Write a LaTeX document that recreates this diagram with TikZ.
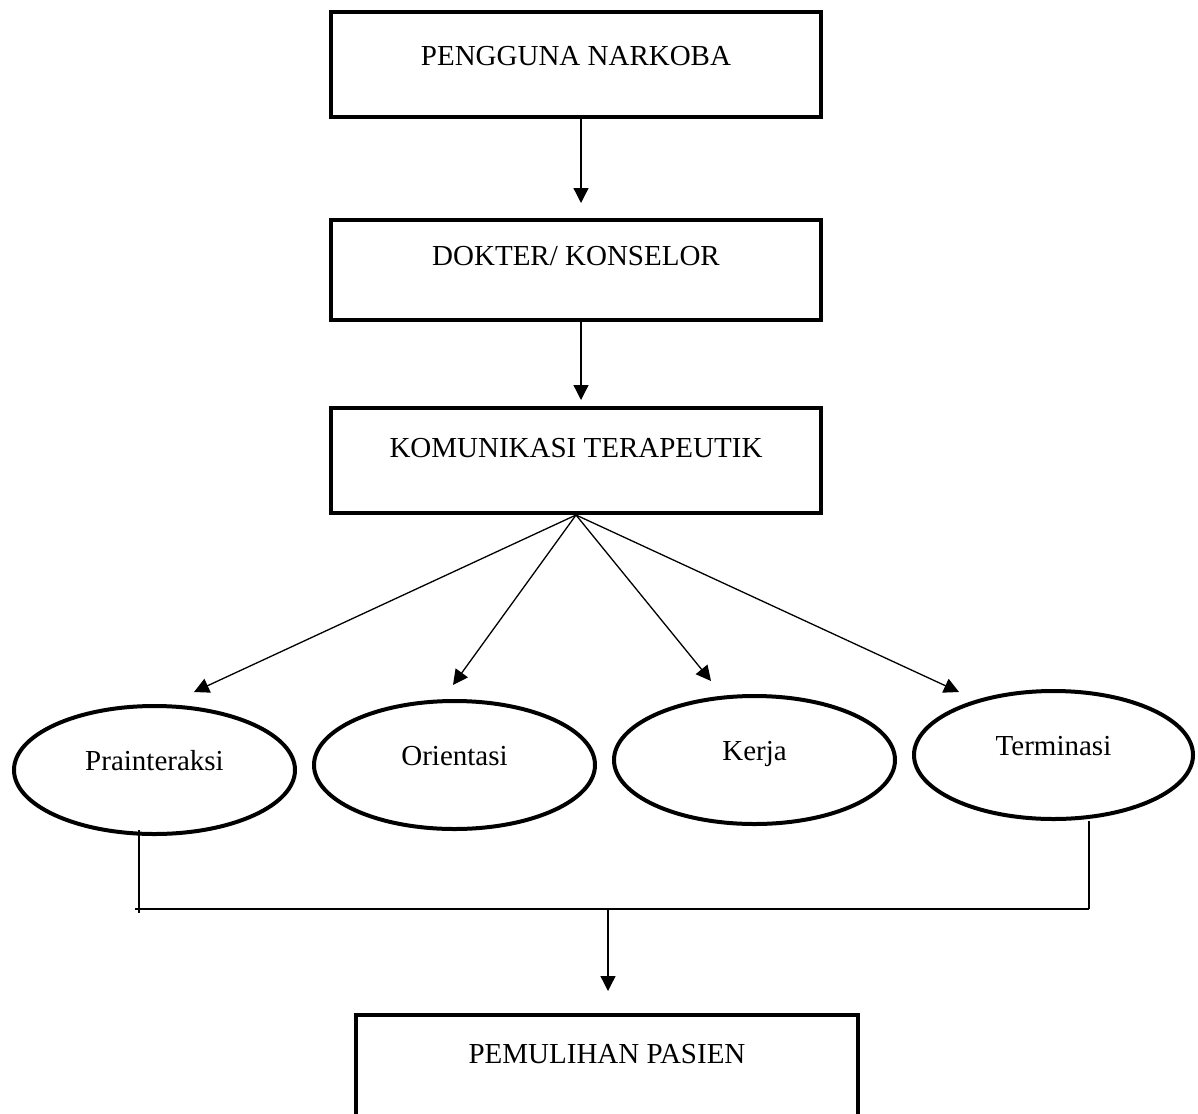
\documentclass[tikz,border=0pt]{standalone}
\usepackage{fontspec}
\setmainfont{Liberation Serif}
\usetikzlibrary{arrows.meta,shapes.geometric,calc}
\begin{document}
\begin{tikzpicture}[x=1pt,y=-1pt,
  boxnode/.style={draw,line width=4pt,rectangle,minimum width=490pt,inner sep=0pt,
    font=\fontsize{29}{34}\selectfont,text height=20pt},
  ovalnode/.style={draw,line width=4pt,ellipse,minimum width=281pt,minimum height=128pt,
    inner sep=0pt,font=\fontsize{29}{34}\selectfont,text height=20pt,text depth=18.8pt},
  conn/.style={line width=1.3pt},
  arr/.style={conn,-{Triangle[length=15pt,width=15pt]}}]
\clip (0,0) rectangle (1198,1113);
\fill[white] (0,0) rectangle (1198,1113);

\node[boxnode,minimum height=105pt,text depth=17.8pt] (b1) at (576,64.5) {PENGGUNA NARKOBA};
\node[boxnode,minimum height=100pt,text depth=28.8pt] (b2) at (576,270) {DOKTER/ KONSELOR};
\node[boxnode,minimum height=105pt,text depth=25.8pt] (b3) at (576,460.5) {KOMUNIKASI TERAPEUTIK};
\node[boxnode,minimum width=502pt,minimum height=105pt,text depth=27.8pt] (b4) at (607,1067.5) {PEMULIHAN PASIEN};

\node[ovalnode] (e1) at (154.5,770) {Prainteraksi};
\node[ovalnode] (e2) at (454.5,765) {Orientasi};
\node[ovalnode] (e3) at (754.5,760) {Kerja};
\node[ovalnode,minimum width=279pt] (e4) at (1053.5,755) {Terminasi};

\draw[arr,shorten >=15pt] ([xshift=5pt]b1.south) -- ([xshift=5pt]b2.north);
\draw[arr,shorten >=6pt] ([xshift=5pt]b2.south) -- ([xshift=5pt]b3.north);

\coordinate (t1) at (194,692);
\coordinate (t2) at (453,685);
\coordinate (t3) at (711,681);
\coordinate (t4) at (959,692);
\draw[arr] (b3.south) -- (t1);
\draw[arr] (b3.south) -- (t2);
\draw[arr] (b3.south) -- (t3);
\draw[arr] (b3.south) -- (t4);

\coordinate (jl) at (139,909);
\coordinate (jr) at (1089,909);
\coordinate (jm) at (608,909);
\draw[conn] ($(e1.south -| jl)+(0,-6)$) -- ($(jl)+(0,4)$);
\draw[conn] ($(jl)+(-4,0)$) -- (jr);
\draw[conn] (e4.south -| jr) -- (jr);
\draw[arr,shorten >=22pt] (jm) -- (b4.north -| jm);
\end{tikzpicture}
\end{document}
